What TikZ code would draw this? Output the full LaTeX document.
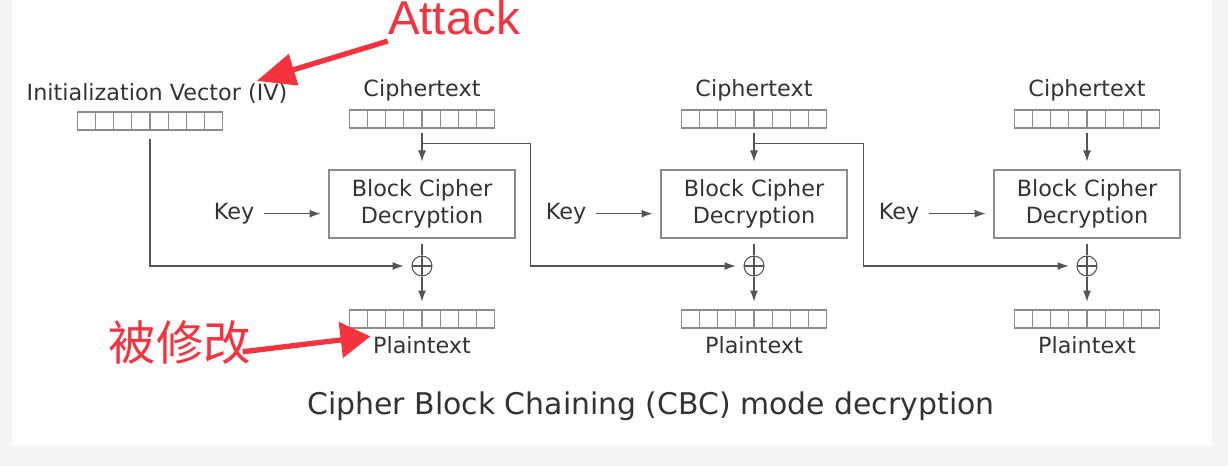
\documentclass[tikz,border=0pt]{standalone}
\usepackage{fontspec}
\setmainfont{DejaVu Sans}
\newfontfamily\cjk{Noto Sans CJK SC}
\newfontfamily\notefont{Liberation Sans}
\usepackage{xcolor}
\usetikzlibrary{arrows.meta, positioning, calc}
\definecolor{cbcline}{HTML}{555555}
\definecolor{cbcbox}{HTML}{8C8C8C}
\definecolor{cbctext}{HTML}{333333}
\definecolor{notered}{HTML}{F5333F}
\definecolor{pagegray}{HTML}{F5F5F5}

\begin{document}
\begin{tikzpicture}[
    x=0.02cm, y=-0.02cm,
    every node/.style={font=\fontsize{12.7}{15.4}\selectfont, text=cbctext},
    blk/.style={draw=cbcbox, line width=0.7pt, minimum width=3.72cm, minimum height=1.36cm, align=center, inner sep=0pt},
    reg/.style={draw=cbcbox, line width=0.6pt, minimum width=2.9cm, minimum height=0.36cm, inner sep=0pt,
        path picture={\foreach \i in {1,...,7}
            \draw[cbcbox, line width=0.6pt] ($(path picture bounding box.south west)!\i/8!(path picture bounding box.south east)$) -- ($(path picture bounding box.north west)!\i/8!(path picture bounding box.north east)$);}},
    xor/.style={circle, draw=cbcline, line width=0.6pt, minimum size=0.4cm, inner sep=0pt,
        path picture={\draw[cbcline, line width=0.6pt] (path picture bounding box.north) -- (path picture bounding box.south)
            (path picture bounding box.west) -- (path picture bounding box.east);}},
    wire/.style={cbcline, line width=0.6pt},
    arr/.style={wire, -{Latex[length=2.2mm, width=1.6mm]}, shorten >=4.5pt},
    note/.style={font=\notefont\fontsize{27}{30}\selectfont, text=notered, inner sep=0pt},
    redarr/.style={notered, line width=3pt},
]
% page background
\fill[pagegray] (0,0) rectangle (1228,466);
\fill[white] (12,0) rectangle (1212,445);
\useasboundingbox (0,0) rectangle (1228,466);

% initialization vector
\node[reg] (iv) at (150,121) {};
\node[above=1pt of iv, xshift=4pt] (ivlbl) {Initialization Vector (IV)};

% three decryption stages
\foreach \i/\x in {1/422, 2/754, 3/1087} {
    \node[reg] (ct\i) at (\x,119) {};
    \node[above=1pt of ct\i] (ctlbl\i) {Ciphertext};
    \node[blk] (dec\i) at (\x,204) {Block Cipher\\Decryption};
    \node[left=1.36cm of dec\i, yshift=-5.5pt] (key\i) {Key};
    \node[xor] (xor\i) at (\x,266) {};
    \node[reg] (pt\i) at (\x,319) {};
    \node[below=1pt of pt\i] (ptlbl\i) {Plaintext};
    \draw[arr] ([yshift=-2.5pt]ct\i.south) -- (dec\i);
    \draw[arr, shorten <=2pt] (key\i) -- (key\i -| dec\i.west);
    \draw[wire, shorten <=3pt] (dec\i.south) -- (xor\i.north);
    \draw[arr] (xor\i.south) -- (pt\i.north);
}

% chaining
\draw[arr] ([yshift=-5pt]iv.south) |- (xor1.west);
\draw[arr] ($(ct1.south)+(0,15)$) -| ($(dec1.east)+(15,0)$) |- (xor2.west);
\draw[arr] ($(ct2.south)+(0,15)$) -| ($(dec2.east)+(16,0)$) |- (xor3.west);

\node (title) at (651,406) {\fontsize{17}{20}\selectfont Cipher Block Chaining (CBC) mode decryption};

% annotations
\node[note, anchor=base] (attack) at (454,35) {Attack};
\node[note, font=\cjk\fontsize{27}{30}\selectfont] (mod) at (180,343) {被修改};
\draw[redarr, -{Triangle[length=22pt, width=18pt]}] ([yshift=-3pt]attack.south west) -- ([xshift=-21pt, yshift=-2pt]ivlbl.north east);
\draw[redarr, -{Triangle[length=17pt, width=20pt]}] ([xshift=-5pt, yshift=-5pt]mod.east) -- ([xshift=2pt, yshift=5pt]ptlbl1.west);
\end{tikzpicture}
\end{document}
